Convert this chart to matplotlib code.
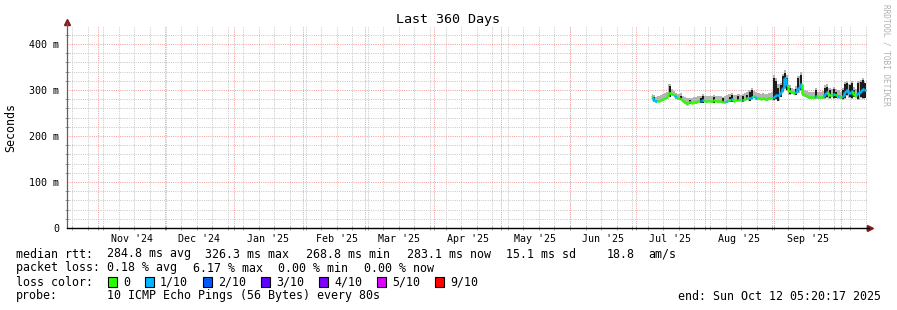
import numpy as np
import matplotlib
matplotlib.use("Agg")
import matplotlib.pyplot as plt
import matplotlib.dates as mdates
from matplotlib.collections import LineCollection
from datetime import datetime, timedelta

# ---------------- data ----------------
range_start = datetime(2024, 10, 17, 20, 0)
range_days = 360
data_first_day = datetime(2025, 7, 8)

median_ms = [285, 278, 275, 276, 279, 280, 283, 284, 293, 292,
             290, 285, 282, 281, 276, 273, 269, 273, 272, 274,
             273, 275, 276, 279, 276, 275, 276, 275, 278, 276,
             275, 275, 274, 274, 276, 278, 280, 277, 278, 279,
             278, 279, 281, 283, 282, 284, 286, 283, 282, 281,
             282, 281, 280, 282, 283, 285, 290, 288, 295, 305,
             326, 310, 298, 295, 294, 296, 305, 312, 292, 288,
             286, 284, 285, 284, 286, 285, 284, 285, 292, 295,
             288, 289, 291, 288, 286, 285, 287, 295, 300, 294,
             297, 290, 288, 294, 298, 302, 300]

loss_tenths = [0, 1, 1, 0, 0, 0, 0, 0, 0, 0,
               0, 1, 0, 0, 0, 0, 0, 0, 0, 0,
               0, 0, 2, 1, 0, 0, 0, 0, 0, 0,
               0, 0, 0, 0, 1, 0, 1, 0, 0, 0,
               0, 1, 0, 0, 1, 1, 0, 1, 0, 0,
               0, 0, 0, 0, 0, 1, 1, 1, 1, 1,
               1, 1, 0, 0, 0, 1, 1, 1, 0, 0,
               0, 0, 0, 0, 1, 0, 0, 0, 1, 1,
               0, 0, 1, 0, 1, 0, 1, 1, 1, 1,
               1, 0, 0, 1, 1, 1, 1]

smoke_lo = [282, 274, 272, 273, 276, 277, 280, 281, 284, 288,
            286, 281, 279, 278, 273, 270, 267, 270, 269, 271,
            270, 272, 272, 271, 273, 272, 273, 272, 272, 273,
            272, 272, 271, 271, 272, 274, 273, 274, 275, 275,
            275, 274, 277, 279, 276, 279, 282, 279, 279, 278,
            279, 278, 277, 279, 280, 275, 278, 275, 284, 296,
            302, 298, 290, 291, 290, 288, 293, 298, 286, 284,
            282, 280, 281, 280, 280, 281, 280, 281, 280, 283,
            281, 284, 280, 282, 281, 281, 278, 281, 286, 283,
            281, 284, 283, 278, 283, 281, 280]

smoke_hi = [292, 288, 285, 286, 289, 291, 293, 295, 314, 302,
            298, 294, 292, 293, 287, 284, 282, 283, 283, 285,
            284, 286, 287, 292, 287, 286, 287, 286, 289, 287,
            287, 286, 285, 286, 288, 291, 294, 288, 289, 291,
            290, 292, 293, 295, 300, 304, 297, 295, 293, 292,
            293, 292, 291, 293, 295, 332, 326, 312, 316, 335,
            344, 332, 310, 305, 303, 308, 330, 338, 303, 299,
            297, 295, 296, 295, 304, 296, 295, 297, 310, 312,
            305, 301, 307, 303, 299, 296, 304, 317, 320, 314,
            320, 306, 301, 319, 322, 326, 320]

N = None
dark_lo = [N, 276, N, N, N, N, N, N, 285, N,
           N, N, N, 278, N, N, N, 270, N, N,
           N, N, 272, 272, N, N, N, N, 272, N,
           N, N, 272, N, N, 274, 274, N, N, 276,
           N, 274, N, 278, 276, 280, N, N, N, N,
           N, N, N, N, N, 278, 280, 276, 285, 298,
           305, 300, 292, N, N, 290, 295, 300, N, N,
           N, N, N, N, 282, N, N, N, 282, 285,
           283, N, 282, 283, N, N, 280, 283, 288, 285,
           283, 285, N, 280, 285, 283, 282]

dark_hi = [N, 284, N, N, N, N, N, N, 309, N,
           N, N, N, 286, N, N, N, 279, N, N,
           N, N, 282, 286, N, N, N, N, 284, N,
           N, N, 282, N, N, 284, 288, N, N, 286,
           N, 286, N, 290, 296, 300, N, N, N, N,
           N, N, N, N, N, 325, 320, 305, 310, 330,
           337, 325, 305, N, N, 302, 325, 333, N, N,
           N, N, N, N, 300, N, N, N, 305, 307,
           300, N, 302, 296, N, N, 300, 312, 315, 310,
           315, 300, N, 315, 318, 322, 315]

y_ticks_ms = [0, 100, 200, 300, 400]
y_tick_labels = ["0", "100 m", "200 m", "300 m", "400 m"]
month_labels = ["Nov '24", "Dec '24", "Jan '25", "Feb '25", "Mar '25", "Apr '25",
                "May '25", "Jun '25", "Jul '25", "Aug '25", "Sep '25"]
loss_legend = ["0", "1/10", "2/10", "3/10", "4/10", "5/10", "9/10"]
loss_colors = ["#26ff00", "#00b8ff", "#0059ff", "#5e00ff", "#7e00ff", "#dd00ff", "#ff0000"]

# ---------------- figure ----------------
plt.rcParams['font.family'] = ['DejaVu Sans Mono', 'DejaVu Sans']
W, H = 897, 310
fig = plt.figure(figsize=(W / 100, H / 100), dpi=100)
fig.patch.set_facecolor('white')
ax = fig.add_axes([67 / W, (H - 228) / H, 800 / W, (228 - 26) / H])
ax.set_facecolor('white')

x0 = mdates.date2num(range_start)
x1 = mdates.date2num(range_start + timedelta(days=range_days))
ax.set_xlim(x0, x1)
ax.set_ylim(0, 439)

dot = (0, (1, 1.2))
minor_c = '#c8c8c8'
major_c = '#f3a0a0'
gkw = dict(lw=0.72, ls=dot)
# horizontal grid
for v in range(20, 440, 20):
    if v % 100 == 0:
        ax.axhline(v, color=major_c, zorder=1, **gkw)
    else:
        ax.axhline(v, color=minor_c, zorder=0.5, **gkw)
# vertical grid: weekly minor, monthly major
wk = datetime(2024, 10, 20, 4, 0)
week_pos = []
while wk < range_start + timedelta(days=range_days):
    week_pos.append(mdates.date2num(wk))
    ax.axvline(mdates.date2num(wk), color=minor_c, zorder=0.5, **gkw)
    wk += timedelta(days=7)
month_starts = []
for y, m in [(2024, 11), (2024, 12), (2025, 1), (2025, 2), (2025, 3), (2025, 4),
             (2025, 5), (2025, 6), (2025, 7), (2025, 8), (2025, 9), (2025, 10)]:
    p = mdates.date2num(datetime(y, m, 1))
    month_starts.append(p)
    ax.axvline(p, color=major_c, zorder=1, **gkw)

# data
n = len(median_ms)
t = np.array([mdates.date2num(data_first_day + timedelta(days=i)) for i in range(n)])
med = np.array(median_ms, float)
slo = np.array(smoke_lo, float)
shi = np.array(smoke_hi, float)
dlo = np.array([np.nan if v is None else v for v in dark_lo], float)
dhi = np.array([np.nan if v is None else v for v in dark_hi], float)

ax.fill_between(t, slo, shi, step='mid', color='#b4b4b4', lw=0, zorder=2)
for i in range(n):
    if not np.isnan(dlo[i]):
        ax.fill_between([t[i] - 0.45, t[i] + 0.45], dlo[i], dhi[i], color='#1c1c1c', lw=0, zorder=3)

segs, cols = [], []
for i in range(n):
    c = loss_colors[loss_tenths[i]]
    segs.append([(t[i] - 0.5, med[i]), (t[i] + 0.5, med[i])])
    cols.append(c)
    if i > 0:
        segs.append([(t[i] - 0.5, med[i - 1]), (t[i] - 0.5, med[i])])
        cols.append(c)
ax.add_collection(LineCollection(segs, colors=cols, linewidths=1.8, zorder=4, capstyle='butt'))

# axes styling
for s in ['top', 'right', 'bottom', 'left']:
    ax.spines[s].set_visible(False)
ax.plot([0, 0], [0, 1.015], transform=ax.transAxes, color='#606060', lw=0.9, clip_on=False, zorder=5)
ax.plot([0, 1.002], [0, 0], transform=ax.transAxes, color='black', lw=1.0, clip_on=False, zorder=5)
ax.plot([1.004], [0], marker='>', ms=4, color='#8b1a1a', transform=ax.transAxes, clip_on=False)
ax.plot([0], [1.02], marker='^', ms=4, color='#8b1a1a', transform=ax.transAxes, clip_on=False)

ax.set_yticks(y_ticks_ms)
ax.set_yticklabels(y_tick_labels, fontsize=7.2)
ax.tick_params(axis='y', which='major', length=0, pad=5.5)
ax.set_yticks(list(range(20, 440, 20)), minor=True)
ax.tick_params(axis='y', which='minor', length=3, direction='inout', color='#a0a0a0', width=0.7)

label_pos = [mdates.date2num(datetime(y, m, 16, 6)) for y, m in
             [(2024, 11), (2024, 12), (2025, 1), (2025, 2), (2025, 3), (2025, 4),
              (2025, 5), (2025, 6), (2025, 7), (2025, 8), (2025, 9)]]
ax.set_xticks(label_pos)
ax.set_xticklabels(month_labels, fontsize=7.2)
ax.tick_params(axis='x', which='major', length=0, pad=4)
ax.set_xticks(week_pos + month_starts, minor=True)
ax.tick_params(axis='x', which='minor', length=3, direction='inout', color='#a0a0a0', width=0.7)

fig.text(11 / W, 1 - 127 / H, "Seconds", rotation=90, ha='center', va='center', fontsize=8.4)
fig.text(448 / W, 1 - 19 / H, "Last 360 Days", ha='center', va='center', fontsize=9.6)
fig.text(886 / W, 1 - 4 / H, "RRDTOOL / TOBI OETIKER", rotation=-90, ha='center', va='top',
         fontsize=5.6, color='#b0b0b0')

fs = 8.4
def put(xp, yp, s, ha='left'):
    fig.text(xp / W, 1 - yp / H, s, ha=ha, va='center', fontsize=fs)

put(16, 254, "median rtt:")
for xp, s in [(107, "284.8 ms avg"), (205, "326.3 ms max"), (306, "268.8 ms min"),
              (407, "283.1 ms now"), (506, "15.1 ms sd"), (607, "18.8"), (648, "am/s")]:
    put(xp, 254, s)
put(16, 268, "packet loss:")
for xp, s in [(107, "0.18 % avg"), (193, "6.17 % max"), (278, "0.00 % min"), (364, "0.00 % now")]:
    put(xp, 268, s)
put(16, 282, "loss color:")
box_x = [108, 145, 203, 261, 319, 377, 435]
for bx, lab, c in zip(box_x, loss_legend, loss_colors):
    fig.patches.append(plt.Rectangle((bx / W, 1 - 287 / H), 9 / W, 10 / H, transform=fig.transFigure,
                                     facecolor=c, edgecolor='black', lw=0.8))
    put(bx + 15, 282, lab)
put(16, 296, "probe:")
put(107, 296, "10 ICMP Echo Pings (56 Bytes) every 80s")
put(881, 296, "end: Sun Oct 12 05:20:17 2025", ha='right')

fig.savefig("out.png", dpi=100, facecolor='white')
